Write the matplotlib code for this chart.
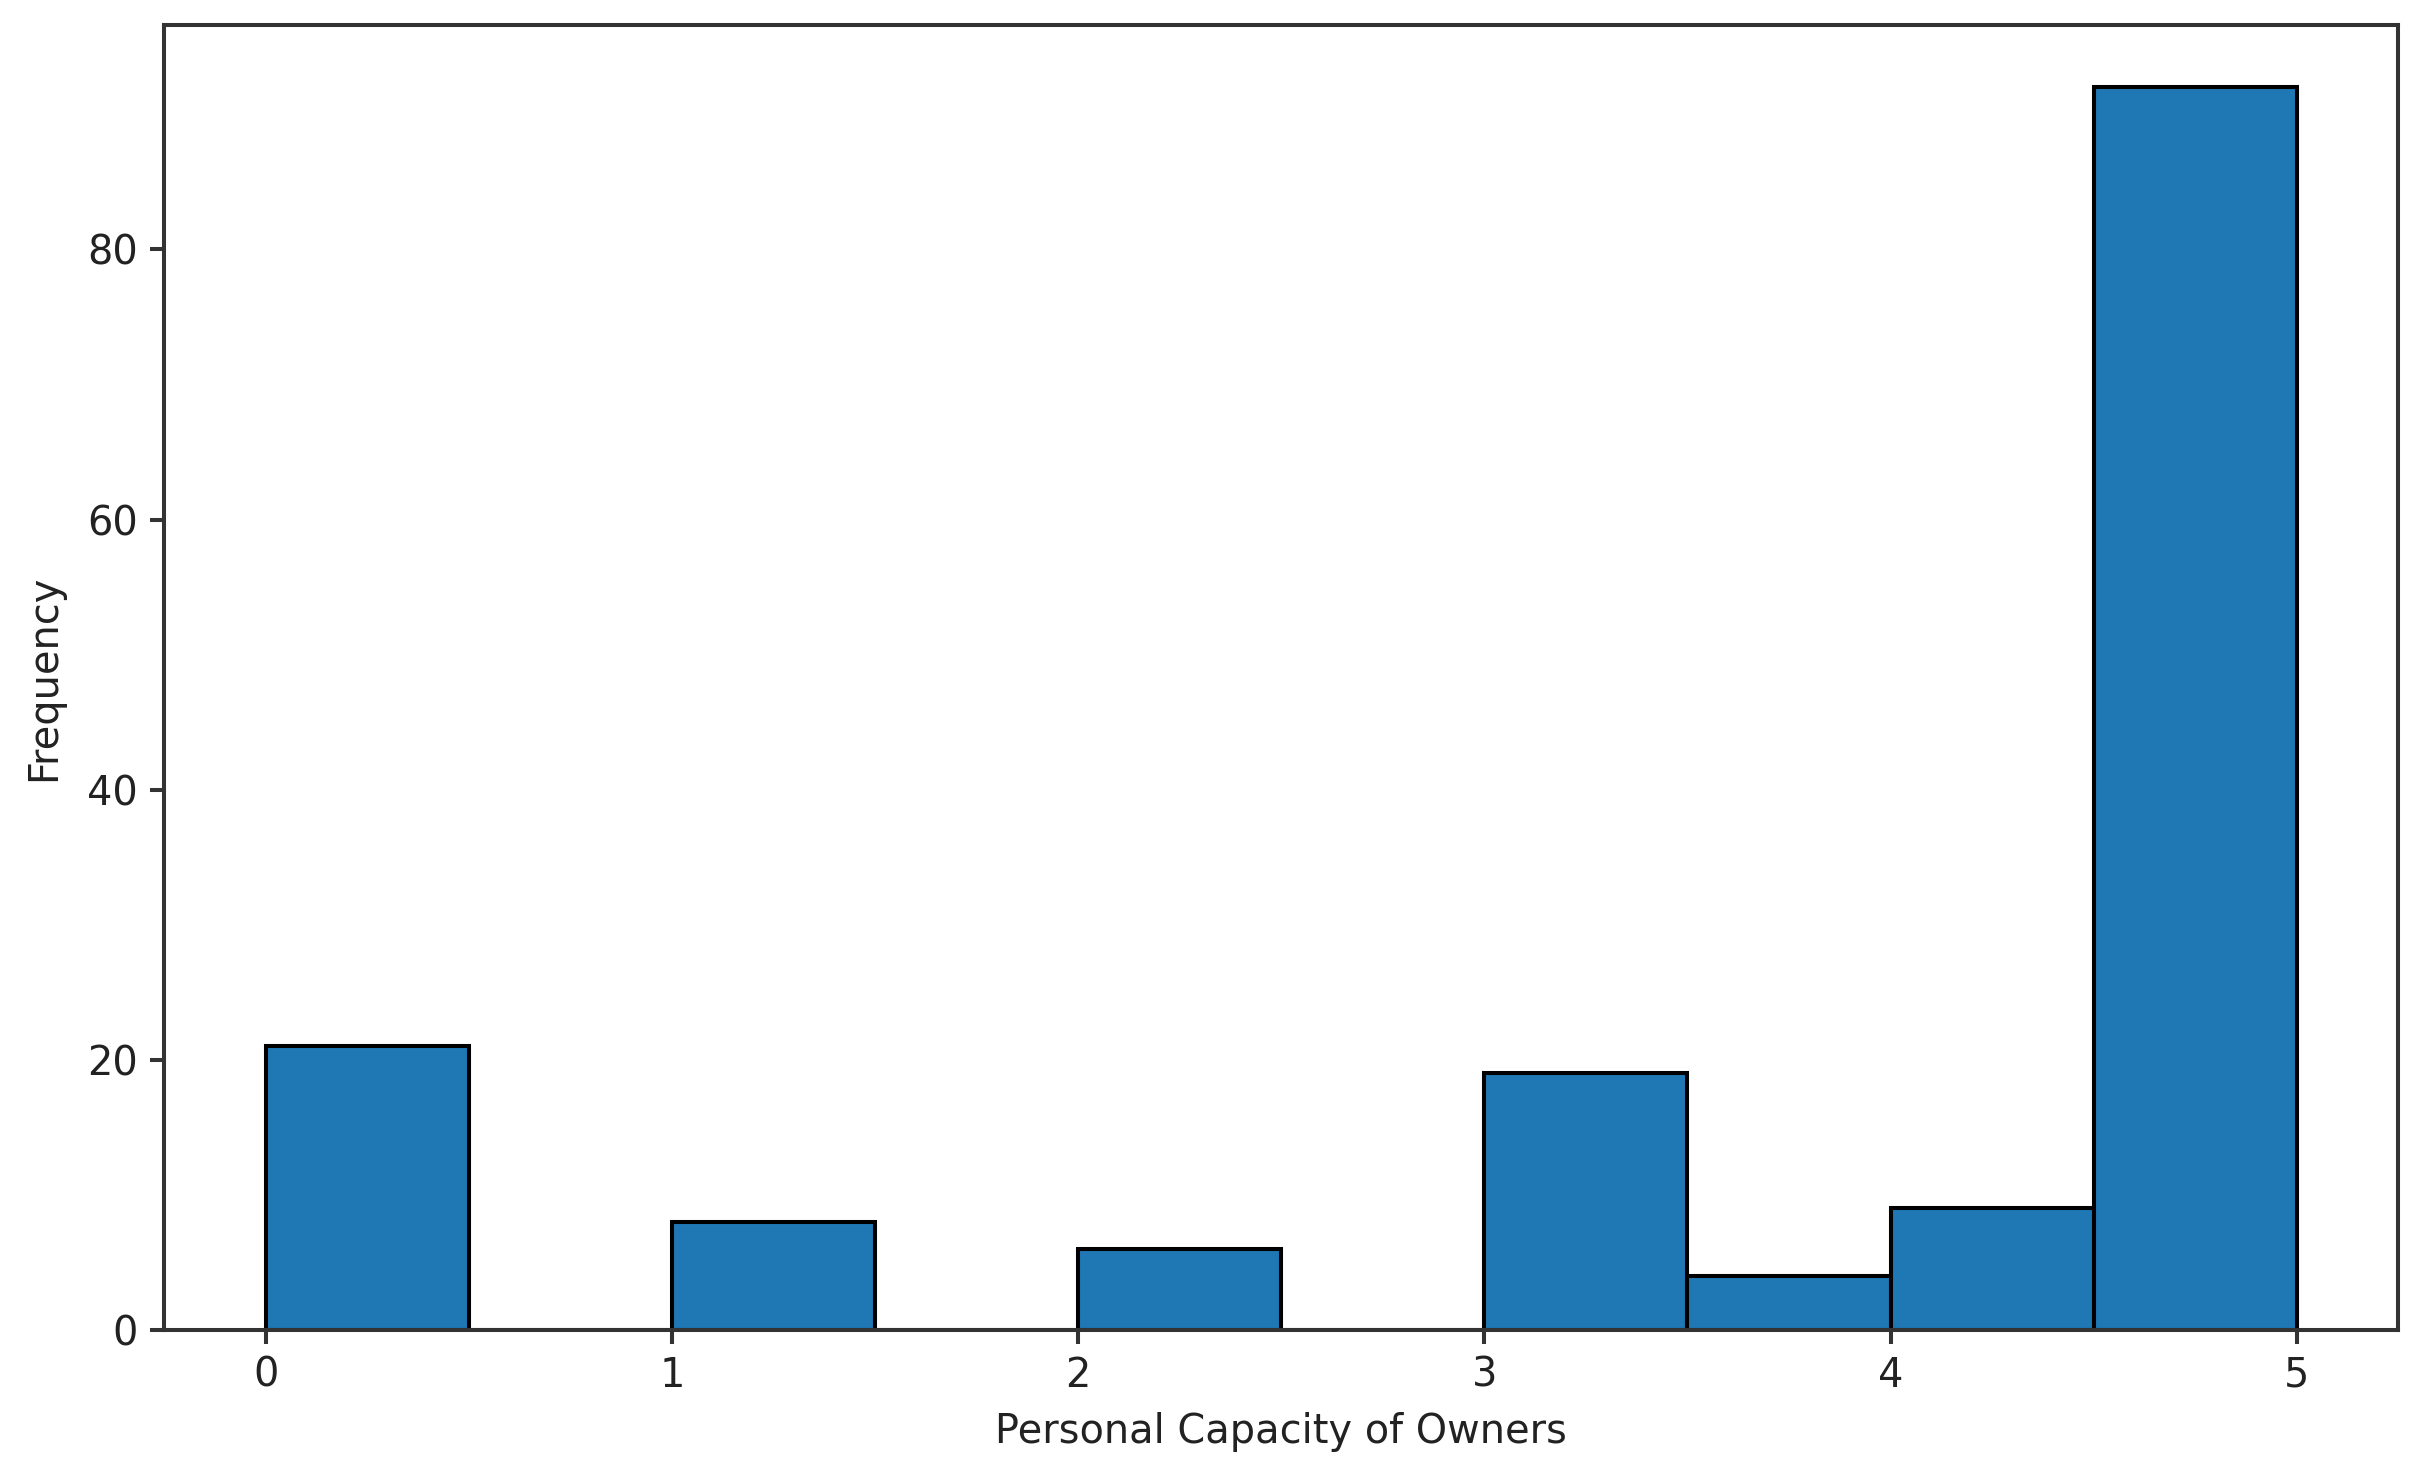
import numpy as np
import matplotlib
matplotlib.use("Agg")
import matplotlib.pyplot as plt

# histogram bins (10 bins between 0 and 5) and counts
bin_edges = np.linspace(0, 5, 11)
counts = [21, 0, 8, 0, 6, 0, 19, 4, 9, 92]

centers = (bin_edges[:-1] + bin_edges[1:]) / 2

plt.rcParams["font.size"] = 11.8
plt.rcParams["axes.linewidth"] = 1.2
plt.rcParams["axes.edgecolor"] = "#333333"
plt.rcParams["xtick.color"] = "#333333"
plt.rcParams["ytick.color"] = "#333333"
plt.rcParams["xtick.labelcolor"] = "#222222"
plt.rcParams["ytick.labelcolor"] = "#222222"
plt.rcParams["xtick.major.width"] = 1.2
plt.rcParams["ytick.major.width"] = 1.2
plt.rcParams["xtick.major.size"] = 4.2
plt.rcParams["ytick.major.size"] = 4.2

fig = plt.figure(figsize=(10, 1482 / 243), dpi=243)
ax = fig.add_axes([0.0675, 0.1026, 0.9195, 0.8804])
ax.hist(centers, bins=bin_edges, weights=counts, color="#1f77b4",
        edgecolor="black", linewidth=1.2)
ax.set_xlabel("Personal Capacity of Owners", color="#222222", labelpad=4.8)
ax.set_ylabel("Frequency", color="#222222", labelpad=7)

fig.savefig("out.png", dpi=243)
